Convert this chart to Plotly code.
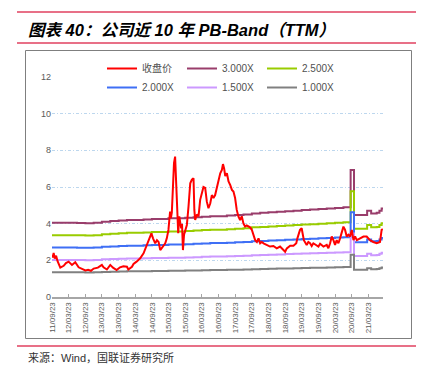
import plotly.graph_objects as go

# ---------------- data ----------------
price_dates = [
    "2011-09-23", "2011-10-02", "2011-10-11", "2011-10-23", "2011-11-07", "2011-11-23",
    "2011-12-23", "2012-01-29", "2012-02-23", "2012-03-23", "2012-04-29", "2012-06-04",
    "2012-07-11", "2012-08-23", "2012-09-23", "2012-10-23", "2012-11-23", "2012-12-23",
    "2013-02-07", "2013-03-23", "2013-04-10", "2013-05-17", "2013-06-23", "2013-07-23",
    "2013-09-01", "2013-10-08", "2013-11-14", "2013-12-23", "2014-01-07", "2014-02-16",
    "2014-03-05", "2014-04-07", "2014-05-17", "2014-06-23", "2014-07-23", "2014-08-10",
    "2014-09-17", "2014-10-05", "2014-10-29", "2014-11-17", "2014-12-05", "2014-12-23",
    "2015-01-10", "2015-01-29", "2015-02-16", "2015-03-05", "2015-03-23", "2015-04-10",
    "2015-04-19", "2015-04-29", "2015-05-08", "2015-05-23", "2015-06-04", "2015-06-13",
    "2015-06-29", "2015-07-08", "2015-07-20", "2015-08-01", "2015-08-10", "2015-08-19",
    "2015-08-29", "2015-09-10", "2015-09-23", "2015-10-11", "2015-10-29", "2015-11-17",
    "2015-12-05", "2015-12-23", "2016-01-01", "2016-01-10", "2016-01-29", "2016-02-16",
    "2016-03-05", "2016-03-23", "2016-04-10", "2016-04-29", "2016-05-17", "2016-06-04",
    "2016-06-23", "2016-07-11", "2016-07-29", "2016-08-16", "2016-09-04", "2016-09-23",
    "2016-10-11", "2016-10-29", "2016-11-10", "2016-11-23", "2016-12-05", "2016-12-23",
    "2017-01-10", "2017-01-29", "2017-02-16", "2017-03-05", "2017-03-23", "2017-04-10",
    "2017-04-29", "2017-05-17", "2017-06-04", "2017-06-23", "2017-07-11", "2017-07-29",
    "2017-08-16", "2017-09-04", "2017-09-23", "2017-10-11", "2017-10-29", "2017-11-17",
    "2017-12-05", "2017-12-23", "2018-01-10", "2018-01-29", "2018-03-05", "2018-04-10",
    "2018-05-17", "2018-06-23", "2018-07-29", "2018-09-04", "2018-09-23", "2018-10-11",
    "2018-11-17", "2018-12-23", "2019-01-23", "2019-02-04", "2019-03-05", "2019-03-23",
    "2019-04-04", "2019-04-16", "2019-05-17", "2019-06-04", "2019-06-23", "2019-07-11",
    "2019-07-29", "2019-09-04", "2019-09-23", "2019-10-11", "2019-11-17", "2019-12-23",
    "2020-01-10", "2020-01-29", "2020-02-16", "2020-03-05", "2020-03-23", "2020-04-10",
    "2020-04-29", "2020-05-17", "2020-06-04", "2020-06-23", "2020-07-11", "2020-07-29",
    "2020-08-16", "2020-09-04", "2020-09-23", "2020-10-11", "2020-10-29", "2020-11-17",
    "2020-12-23", "2021-01-29", "2021-03-05", "2021-04-10", "2021-05-17", "2021-06-23",
    "2021-07-29", "2021-08-16", "2021-08-29",
]
price_values = [
    2.30, 2.15, 2.40, 2.10, 2.25, 1.95,
    1.60, 1.70, 1.85, 1.93, 1.75, 1.90,
    1.62, 1.50, 1.45, 1.48, 1.43, 1.55,
    1.60, 1.75, 1.62, 1.50, 1.75, 1.60,
    1.47, 1.62, 1.68, 1.65, 1.50, 1.65,
    1.80, 1.93, 2.11, 2.38, 2.74, 3.00,
    3.47, 3.20, 2.93, 3.10, 3.00, 2.56,
    2.70, 2.84, 2.93, 3.20, 3.66, 4.66,
    4.30, 4.60, 5.66, 7.30, 7.66, 6.80,
    4.60, 3.48, 4.40, 4.00, 3.75, 4.00,
    2.56, 3.40, 3.65, 3.93, 4.93, 6.20,
    6.40, 6.48, 4.75, 4.20, 4.50, 4.40,
    5.30, 5.66, 6.00, 5.95, 5.20, 4.84,
    5.10, 5.56, 5.40, 5.56, 6.00, 6.50,
    6.75, 6.93, 7.25, 7.00, 6.60, 6.75,
    6.30, 6.10, 5.84, 5.75, 5.40, 4.75,
    4.38, 4.20, 4.40, 4.00, 3.84, 3.90,
    3.84, 3.80, 3.66, 3.38, 3.10, 3.00,
    3.20, 2.93, 3.00, 2.93, 2.84, 2.75,
    2.78, 2.65, 2.75, 2.56, 2.47, 2.65,
    2.80, 2.80, 2.93, 3.20, 3.66, 3.75,
    3.48, 3.10, 2.84, 3.00, 2.93, 2.78,
    2.93, 2.84, 2.75, 2.90, 2.75, 2.84,
    2.66, 2.93, 3.30, 3.10, 2.84, 3.10,
    2.93, 3.20, 3.48, 3.84, 3.66, 3.30,
    3.40, 3.30, 3.66, 3.10, 3.30, 3.10,
    3.20, 3.30, 3.30, 3.10, 3.00, 2.93,
    3.00, 3.66, 3.70,
]

# book value per share (TTM) steps behind the bands
bps_dates = [
    "2011-09-23", "2011-12-23", "2012-03-23", "2012-06-23", "2012-09-23", "2012-12-23",
    "2013-03-23", "2013-06-23", "2013-09-23", "2013-12-23", "2014-03-23", "2014-06-23",
    "2014-09-23", "2014-12-23", "2015-03-23", "2015-06-23", "2015-09-23", "2015-12-23",
    "2016-03-23", "2016-06-23", "2016-09-23", "2016-12-23", "2017-03-23", "2017-06-23",
    "2017-09-23", "2017-12-23", "2018-03-23", "2018-06-23", "2018-09-23", "2018-12-23",
    "2019-03-23", "2019-06-23", "2019-09-23", "2019-12-23", "2020-03-23", "2020-06-23",
    "2020-09-10", "2020-10-17", "2021-03-10", "2021-04-23", "2021-06-23", "2021-07-23",
    "2021-08-16", "2021-08-31",
]
bps_values = [
    1.35, 1.35, 1.35, 1.345, 1.34, 1.35,
    1.37, 1.38, 1.39, 1.40, 1.40, 1.41,
    1.42, 1.42, 1.43, 1.43, 1.44, 1.45,
    1.46, 1.47, 1.47, 1.48, 1.49, 1.50,
    1.52, 1.53, 1.54, 1.55, 1.56, 1.57,
    1.58, 1.59, 1.60, 1.61, 1.62, 1.63,
    2.31, 1.49, 1.57, 1.52, 1.53, 1.57,
    1.61, 1.61,
]

band_names = ["3.000X", "2.500X", "2.000X", "1.500X", "1.000X"]
band_multiples = [3.0, 2.5, 2.0, 1.5, 1.0]
band_colors = ["#993d6b", "#99cc00", "#3f6ff5", "#cc99ff", "#808080"]
band_legend_rows = ["legend", "legend", "legend2", "legend2", "legend2"]

tick_dates = [
    "2011-09-23", "2012-03-23", "2012-09-23", "2013-03-23", "2013-09-23",
    "2014-03-23", "2014-09-23", "2015-03-23", "2015-09-23", "2016-03-23",
    "2016-09-23", "2017-03-23", "2017-09-23", "2018-03-23", "2018-09-23",
    "2019-03-23", "2019-09-23", "2020-03-23", "2020-09-23", "2021-03-23",
]
tick_labels = [
    "11/09/23", "12/03/23", "12/09/23", "13/03/23", "13/09/23",
    "14/03/23", "14/09/23", "15/03/23", "15/09/23", "16/03/23",
    "16/09/23", "17/03/23", "17/09/23", "18/03/23", "18/09/23",
    "19/03/23", "19/09/23", "20/03/23", "20/09/23", "21/03/23",
]
y_ticks = [0, 2, 4, 6, 8, 10, 12]

# ---------------- figure ----------------
W, H = 423, 372
L, R, T, B = 52, 40, 77, 75
PW, PH = W - L - R, H - T - B


def px2x(px):
    return (px - L) / PW


def py2y(py):
    return (H - B - py) / PH


fig = go.Figure()

for i, (name, mult, col, lg) in enumerate(zip(band_names, band_multiples, band_colors, band_legend_rows)):
    fig.add_trace(go.Scatter(
        x=bps_dates, y=[round(b * mult, 4) for b in bps_values],
        mode="lines", name=name, line=dict(color=col, width=2, shape="hv"),
        legend=lg, legendrank=2 + i, hoverinfo="skip",
    ))

fig.add_trace(go.Scatter(
    x=price_dates, y=price_values, mode="lines", name="收盘价",
    line=dict(color="#ff0000", width=2), legend="legend", legendrank=1,
))

legend_common = dict(
    orientation="h", xanchor="left", yanchor="top",
    font=dict(size=10, color="#505050", family="Liberation Sans, Noto Sans CJK SC"),
    entrywidth=35, entrywidthmode="pixels", itemwidth=30,
    bgcolor="rgba(0,0,0,0)", tracegroupgap=0,
)

fig.update_layout(
    width=W, height=H,
    margin=dict(l=L, r=R, t=T, b=B, pad=0, autoexpand=False),
    paper_bgcolor="white", plot_bgcolor="white",
    font=dict(family="Liberation Sans, Arial, Noto Sans CJK SC", color="#595959"),
    showlegend=True,
    legend=dict(x=px2x(102), y=py2y(54), **legend_common),
    legend2=dict(x=px2x(102), y=py2y(73), **legend_common),
    xaxis=dict(
        type="date", range=["2011-09-23", "2021-08-31"],
        tickmode="array", tickvals=tick_dates, ticktext=tick_labels,
        tickangle=-90, tickfont=dict(size=8, color="#595959"),
        ticks="inside", ticklen=3, tickcolor="#a6a6a6", tickwidth=1,
        showline=True, linecolor="#a6a6a6", linewidth=2,
        showgrid=False, zeroline=False, fixedrange=True,
    ),
    yaxis=dict(
        range=[0, 12], tickmode="array", tickvals=y_ticks,
        tickfont=dict(size=9, color="#595959"),
        showgrid=True, gridcolor="#bdd7ee", gridwidth=1, griddash="3px,2px,1px,2px",
        zeroline=False, showline=False, ticks="", fixedrange=True,
    ),
)

shapes = []
# red rules around title and below chart
for yy in (12, 43, 346):
    shapes.append(dict(type="line", xref="paper", yref="paper",
                       x0=px2x(17), x1=px2x(416), y0=py2y(yy), y1=py2y(yy),
                       line=dict(color="#e0405f", width=1.5)))
# chart frame
shapes.append(dict(type="rect", xref="paper", yref="paper",
                   x0=px2x(25.5), x1=px2x(411.5), y0=py2y(50.5), y1=py2y(338.5),
                   line=dict(color="#7f7f7f", width=1), layer="below"))
fig.update_layout(shapes=shapes)

fig.add_annotation(
    x=px2x(26), y=py2y(30), xref="paper", yref="paper", xanchor="left", yanchor="middle",
    text="<b><i>图表 40：公司近 10 年 PB-Band（TTM）</i></b>", showarrow=False,
    font=dict(size=16.5, color="#000000", family="Liberation Sans, Noto Sans CJK SC"),
)
fig.add_annotation(
    x=px2x(26), y=py2y(357), xref="paper", yref="paper", xanchor="left", yanchor="middle",
    text="来源：Wind，国联证券研究所", showarrow=False,
    font=dict(size=11, color="#333333", family="Liberation Sans, Noto Sans CJK SC"),
)

fig.write_html(
    "out.html",
    config={"displayModeBar": False},
    post_script="document.body.style.margin='0';document.body.style.padding='0';",
)
